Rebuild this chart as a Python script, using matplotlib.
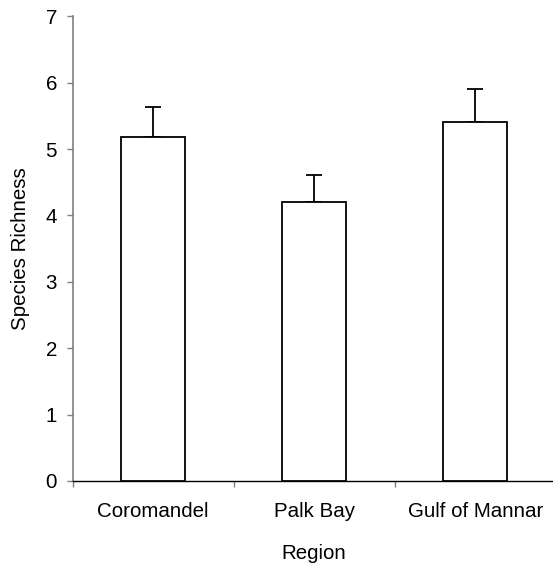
import matplotlib
matplotlib.use("Agg")
import matplotlib.pyplot as plt
import numpy as np

regions = ["Coromandel", "Palk Bay", "Gulf of Mannar"]
richness = [5.18, 4.20, 5.40]
richness_se = [0.45, 0.41, 0.50]
y_ticks = [0, 1, 2, 3, 4, 5, 6, 7]

plt.rcParams["font.family"] = ["Liberation Sans", "DejaVu Sans"]
FS = 14.8

fig = plt.figure(figsize=(5.53, 5.69), dpi=100)
ax = fig.add_axes([0.1315, 0.1547, 0.8734, 0.8167])

x = np.arange(len(regions))
ax.errorbar(x, richness, yerr=[np.zeros(len(regions)), richness_se],
            fmt="none", ecolor="black", elinewidth=1.3, capsize=5.6,
            capthick=1.3, zorder=2)
ax.bar(x, richness, width=0.4, color="white", edgecolor="black",
       linewidth=1.3, zorder=3)

ax.set_xlim(-0.5, 2.5)
ax.set_ylim(0, 7)
ax.set_yticks(y_ticks)

# category boundaries carry the tick marks, centres carry the labels
ax.set_xticks(np.arange(-0.5, len(regions) + 0.5, 1.0))
ax.set_xticklabels([])
ax.set_xticks(x, minor=True)
ax.set_xticklabels(regions, minor=True)
ax.tick_params(axis="x", which="minor", length=0, pad=15, labelsize=FS)
ax.tick_params(axis="x", which="major", length=4.3, width=1, color="#808080")
ax.tick_params(axis="y", length=4.3, width=1, color="#808080", pad=7,
               labelsize=FS)

for side in ("top", "right"):
    ax.spines[side].set_visible(False)
ax.spines["left"].set_color("#808080")
ax.spines["left"].set_linewidth(1.2)
ax.spines["bottom"].set_color("black")
ax.spines["bottom"].set_linewidth(1.0)

ax.set_xlabel("Region", fontsize=FS, labelpad=17)
ax.set_ylabel("Species Richness", fontsize=FS, labelpad=11)

fig.savefig("out.png", dpi=100)
